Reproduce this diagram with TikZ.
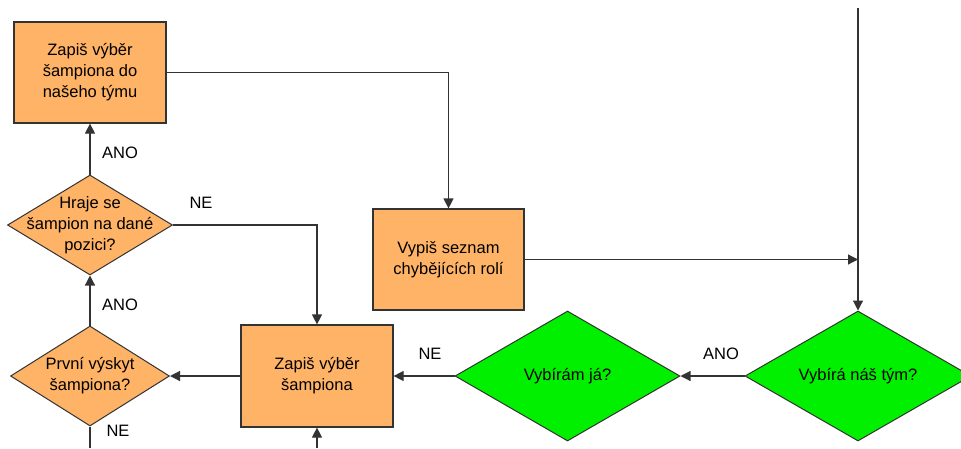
\documentclass[tikz,border=0pt]{standalone}
\usepackage{fontspec}
\setmainfont{Liberation Sans}
\usetikzlibrary{shapes.geometric,arrows.meta}
\definecolor{oranzova}{HTML}{FFB366}
\definecolor{zelena}{HTML}{00F000}
\definecolor{cara}{HTML}{333333}
\begin{document}
\begin{tikzpicture}[x=1pt, y=-1pt,
    every node/.style={font=\fontsize{16.5}{21}\selectfont},
    krok/.style={rectangle, draw=cara, line width=1.2pt, fill=oranzova, minimum width=152pt, minimum height=101pt, inner sep=0pt, align=center},
    otazka/.style={diamond, draw=cara, line width=1pt, fill=#1, inner sep=0pt},
    sipka/.style={draw=cara, line width=1.2pt, -{Triangle[length=10pt,width=10pt]}},
    cara/.style={draw=cara, line width=1.2pt}]
    \clip (0,0) rectangle (961,448);
    \fill[white] (0,0) rectangle (961,448);

    % kroky
    \node[krok] (zapisTym) at (90,72.5) {Zapiš výběr\\šampiona do\\našeho týmu};
    \node[krok, minimum width=151pt] (vypis) at (448.5,259.5) {Vypiš seznam\\chybějících rolí};
    \node[krok, minimum height=102pt] (zapis) at (317,376) {Zapiš výběr\\šampiona};

    % otazky
    \node[otazka=oranzova, minimum width=165pt, minimum height=100pt,
          label={[align=center]center:Hraje se\\šampion na dané\\pozici?}] (hraje) at (90,225) {};
    \node[otazka=oranzova, minimum width=159pt, minimum height=100pt,
          label={[align=center]center:První výskyt\\šampiona?}] (prvni) at (90,376) {};
    \node[otazka=zelena, minimum width=225pt, minimum height=130pt,
          label={center:Vybírám já?}] (vybiram) at (567.5,376) {};
    \node[otazka=zelena, minimum width=226pt, minimum height=130pt,
          label={center:Vybírá náš tým?}] (tym) at (858,376) {};

    \coordinate (start) at (858,8);
    \coordinate (dole1) at (90,448);
    \coordinate (dole2) at (317,448);

    % spojnice
    \draw[sipka] (start) -- (tym.north);
    \draw[sipka] (vypis.east) -- (vypis.east -| start);
    \draw[sipka] (zapisTym.east) -| (vypis.north);
    \draw[sipka] (hraje.east) -| (zapis.north);
    \draw[sipka] (hraje.north) -- (zapisTym.south);
    \draw[sipka] (prvni.north) -- (hraje.south);
    \draw[sipka] (zapis.west) -- (prvni.east);
    \draw[sipka] (vybiram.west) -- (zapis.east);
    \draw[sipka] (tym.west) -- (vybiram.east);
    \draw[cara] (prvni.south) -- (dole1);
    \draw[sipka] (dole2) -- (zapis.south);

    % popisky
    \node (ano1) at (120,153) {ANO};
    \node (ano2) at (120,305) {ANO};
    \node (ne1) at (201,203) {NE};
    \node (ne2) at (118,431) {NE};
    \node (ne3) at (430,354) {NE};
    \node (ano3) at (721,354) {ANO};
\end{tikzpicture}
\end{document}
